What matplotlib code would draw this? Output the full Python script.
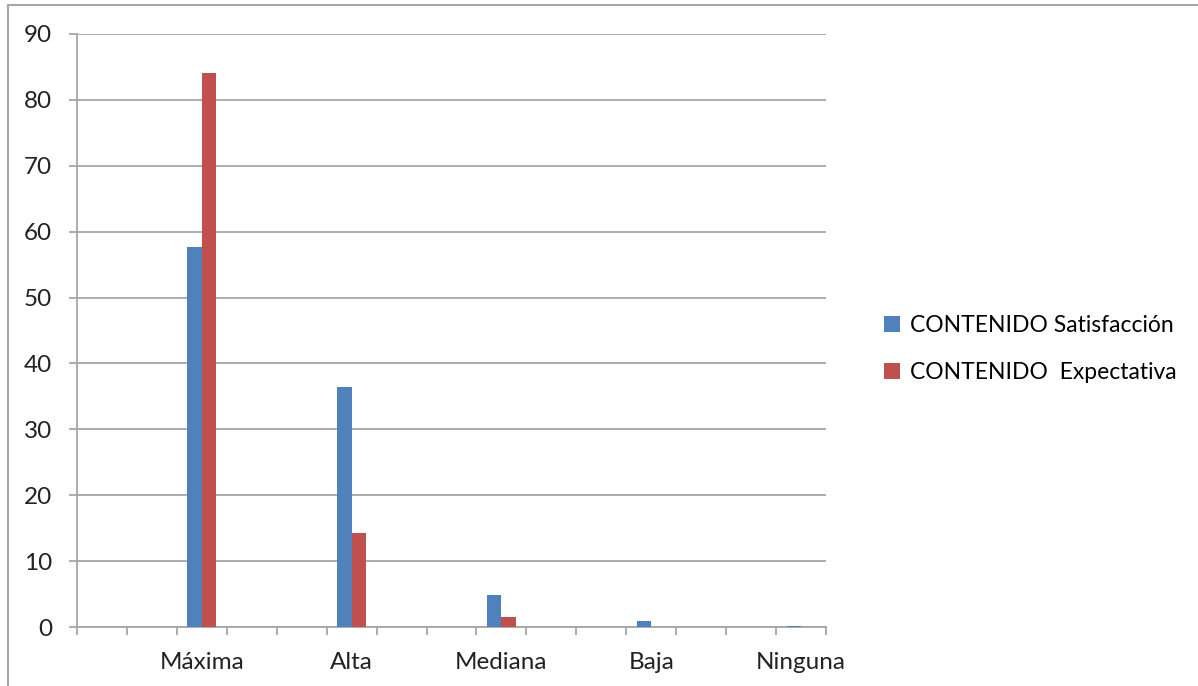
import numpy as np
import matplotlib.pyplot as plt
from matplotlib.lines import Line2D
from matplotlib.ticker import FixedLocator

# 15 category slots, only every third one carries a label (as in the original sheet)
categorias = ['', '', 'Máxima', '', '', 'Alta', '', '', 'Mediana', '', '', 'Baja', '', '', 'Ninguna']
satisfaccion = [0, 0, 57.7, 0, 0, 36.4, 0, 0, 4.8, 0, 0, 0.9, 0, 0, 0.1]
expectativa = [0, 0, 84.1, 0, 0, 14.3, 0, 0, 1.5, 0, 0, 0, 0, 0, 0]
series_names = ['CONTENIDO Satisfacción', 'CONTENIDO  Expectativa']
y_ticks = [0, 10, 20, 30, 40, 50, 60, 70, 80, 90]

blue = '#4F81BD'
red = '#C0504D'
grid_col = '#A6A6A6'

plt.rcParams['font.family'] = ['Lato', 'DejaVu Sans']

fig = plt.figure(figsize=(11.98, 6.86), dpi=100)
ax = fig.add_axes([77/1198, 59/686, 749/1198, 593/686])

x = np.arange(len(categorias))
w = 0.29
ax.bar(x - w/2, satisfaccion, w, color=blue, label=series_names[0], zorder=3)
ax.bar(x + w/2, expectativa, w, color=red, label=series_names[1], zorder=3)

ax.set_xlim(-0.5, len(categorias) - 0.5)
ax.set_ylim(0, 90)
ax.set_yticks(y_ticks)
ax.yaxis.grid(True, color=grid_col, linewidth=1.3, zorder=0)

# labels only on the named slots, tick marks between every slot
lab_idx = [i for i, c in enumerate(categorias) if c]
ax.set_xticks(lab_idx)
ax.set_xticklabels([categorias[i] for i in lab_idx])
ax.xaxis.set_minor_locator(FixedLocator(np.arange(-0.5, len(categorias), 1)))
ax.tick_params(axis='x', which='major', length=0, pad=18, labelsize=17.5, colors='#222222')
ax.tick_params(axis='x', which='minor', length=6, width=1.3, color=grid_col)
ax.tick_params(axis='y', length=6, width=1.3, color=grid_col, labelsize=17.5, labelcolor='#222222', pad=12)

for s in ['top', 'right']:
    ax.spines[s].set_visible(False)
for s in ['left', 'bottom']:
    ax.spines[s].set_color(grid_col)
    ax.spines[s].set_linewidth(1.3)

fig.legend(loc='center left', bbox_to_anchor=(863/1198, 0.491), frameon=False,
           fontsize=16.5, handlelength=0.7, handleheight=0.7, handletextpad=0.45,
           labelspacing=1.15)

# outer chart border (top and left visible)
fig.add_artist(Line2D([8/1198, 1], [681/686, 681/686], color=grid_col, linewidth=1.5))
fig.add_artist(Line2D([8/1198, 8/1198], [0, 681/686], color=grid_col, linewidth=1.5))

fig.savefig('out.png', dpi=100)
